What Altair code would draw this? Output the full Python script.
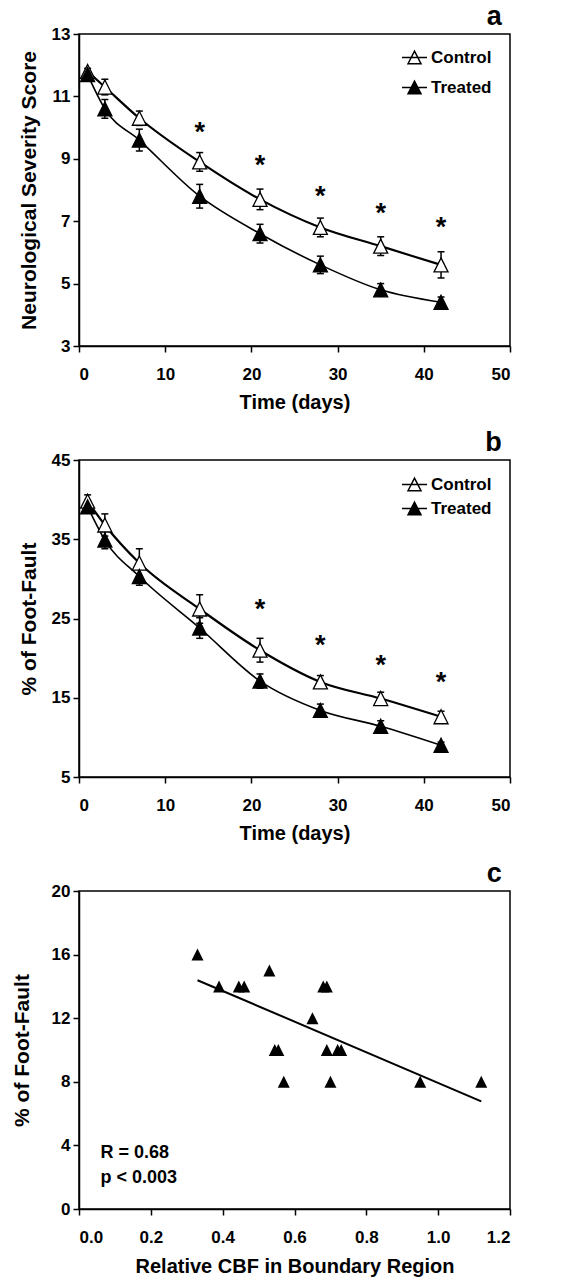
import altair as alt
import pandas as pd

FONT = "Liberation Sans"
TRI = "M0,-1L1,1L-1,1Z"
LEG = "M-1,0L1,0M-0.52,0.5L0,-0.5L0.52,0.5Z"

# ---- data ----
days = [1, 3, 7, 14, 21, 28, 35, 42]

nss_control = [11.8, 11.3, 10.3, 8.9, 7.7, 6.8, 6.2, 5.6]
nss_control_err = [0.1, 0.25, 0.23, 0.3, 0.33, 0.3, 0.3, 0.42]
nss_treated = [11.7, 10.6, 9.6, 7.8, 6.6, 5.6, 4.8, 4.4]
nss_treated_err = [0.1, 0.3, 0.35, 0.38, 0.3, 0.28, 0.2, 0.17]
nss_star_days = [14, 21, 28, 35, 42]
nss_star_y = [10.05, 9.0, 8.0, 7.45, 7.0]

ff_control = [39.8, 36.8, 32.0, 26.2, 21.0, 17.0, 14.9, 12.6]
ff_control_err = [0.8, 1.4, 1.8, 1.8, 1.5, 0.8, 0.8, 0.7]
ff_treated = [39.1, 34.9, 30.3, 23.8, 17.1, 13.4, 11.4, 9.0]
ff_treated_err = [0.8, 1.1, 1.1, 1.3, 0.9, 0.8, 0.7, 0.4]
ff_star_days = [21, 28, 35, 42]
ff_star_y = [26.9, 22.4, 19.95, 17.8]

cbf = [0.33, 0.39, 0.445, 0.46, 0.53, 0.545, 0.555, 0.57, 0.65,
       0.68, 0.69, 0.69, 0.70, 0.72, 0.73, 0.95, 1.12]
cbf_ff = [16, 14, 14, 14, 15, 10, 10, 8, 12, 14, 14, 10, 8, 10, 10, 8, 8]
stat_text = ["R = 0.68", "p < 0.003"]
stat_x = [0.06, 0.06]
stat_y = [3.2, 1.65]

groups = ["Control", "Treated"]

W = 431


def letter_title(letter):
    return alt.TitleParams(letter, anchor="end", fontSize=27, font=FONT,
                           fontWeight="bold", color="black", offset=-6, dx=-9)


def time_panel(letter, ctrl, ctrl_err, trt, trt_err, sx, sy, ydom, ystep,
               ytitle, height, leg_y, row_pad):
    rows = []
    for g, m, e in (("Control", ctrl, ctrl_err), ("Treated", trt, trt_err)):
        for d, v, s in zip(days, m, e):
            rows.append({"day": d, "group": g, "mean": v,
                         "lo": v - s, "hi": v + s})
    df = pd.DataFrame(rows)
    stars = pd.DataFrame({"day": sx, "y": sy})

    xenc = alt.X("day:Q", scale=alt.Scale(domain=[0, 50], nice=False),
                 axis=alt.Axis(title="Time (days)", values=list(range(0, 51, 10)),
                               tickSize=6, labelPadding=14, titlePadding=10))
    yscale = alt.Scale(domain=ydom, nice=False, zero=False)
    yaxis = alt.Axis(title=ytitle, values=list(range(ydom[0], ydom[1] + 1, ystep)),
                     tickSize=6, labelPadding=3, titlePadding=12)

    base = alt.Chart(df).encode(x=xenc)
    rule = base.mark_rule(color="black", strokeWidth=1.5).encode(
        y=alt.Y("lo:Q", scale=yscale, axis=yaxis), y2="hi:Q")
    cap_lo = base.mark_tick(orient="horizontal", size=7, thickness=1.5,
                            color="black", opacity=1).encode(y="lo:Q")
    cap_hi = base.mark_tick(orient="horizontal", size=7, thickness=1.5,
                            color="black", opacity=1).encode(y="hi:Q")
    line_c = base.transform_filter(alt.datum.group == "Control").mark_line(
        interpolate="monotone", color="black", strokeWidth=2.2).encode(y="mean:Q")
    line_t = base.transform_filter(alt.datum.group == "Treated").mark_line(
        interpolate="monotone", color="black", strokeWidth=1.6).encode(y="mean:Q")
    pts = base.mark_point(shape=TRI, filled=True, size=196, stroke="black",
                          strokeWidth=1.3, opacity=1).encode(
        y="mean:Q",
        fill=alt.Fill("group:N",
                      scale=alt.Scale(domain=groups, range=["white", "black"]),
                      legend=alt.Legend(title=None, orient="none", legendX=322,
                                        legendY=leg_y, symbolType=LEG,
                                        symbolSize=625, symbolStrokeColor="black",
                                        symbolStrokeWidth=1.5, symbolOpacity=1,
                                        labelFont=FONT, labelFontSize=17,
                                        labelFontWeight="bold", labelColor="black",
                                        labelOffset=3, rowPadding=row_pad,
                                        padding=0)))
    star = alt.Chart(stars).mark_text(text="*", font=FONT, fontSize=27,
                                      fontWeight="bold", baseline="alphabetic",
                                      dy=15, color="black").encode(
        x="day:Q", y="y:Q")
    return alt.layer(rule, cap_lo, cap_hi, line_c, line_t, pts, star).properties(
        width=W, height=height, title=letter_title(letter))


pa = time_panel("a", nss_control, nss_control_err, nss_treated, nss_treated_err,
                nss_star_days, nss_star_y, [3, 13], 2,
                "Neurological Severity Score", 312, 10, 7)
pb = time_panel("b", ff_control, ff_control_err, ff_treated, ff_treated_err,
                ff_star_days, ff_star_y, [5, 45], 5,
                "% of Foot-Fault", 317, 11, 1)

dfc = pd.DataFrame({"cbf": cbf, "ff": cbf_ff})
stats = pd.DataFrame({"t": stat_text, "x": stat_x, "y": stat_y})
cx = alt.X("cbf:Q", scale=alt.Scale(domain=[0, 1.2], nice=False),
           axis=alt.Axis(title="Relative CBF in Boundary Region",
                         values=[0, 0.2, 0.4, 0.6, 0.8, 1.0, 1.2], format=".1f",
                         tickSize=6, labelPadding=14, titlePadding=11))
cy = alt.Y("ff:Q", scale=alt.Scale(domain=[0, 20], nice=False),
           axis=alt.Axis(title="% of Foot-Fault", values=[0, 4, 8, 12, 16, 20],
                         tickSize=6, labelPadding=3, titlePadding=19))
cpts = alt.Chart(dfc).mark_point(shape=TRI, filled=True, size=144, color="black",
                                 opacity=1).encode(x=cx, y=cy)
creg = alt.Chart(dfc).transform_regression("cbf", "ff").mark_line(
    color="black", strokeWidth=2).encode(x="cbf:Q", y="ff:Q")
ctext = alt.Chart(stats).mark_text(align="left", baseline="alphabetic", font=FONT,
                                   fontSize=18, fontWeight="bold",
                                   color="black").encode(x="x:Q", y="y:Q", text="t:N")
pc = alt.layer(creg, cpts, ctext).properties(
    width=W, height=318, title=letter_title("c"))

chart = alt.vconcat(pa, pb, pc, spacing=15).resolve_legend(
    fill="independent"
).properties(
    padding={"left": 2, "top": -6, "right": 0, "bottom": 0}
).configure_view(stroke="black", strokeWidth=1.5).configure_axis(
    grid=False, domainColor="black", domainWidth=1.5, tickColor="black",
    tickWidth=1.5, labelFont=FONT, labelFontSize=17, labelFontWeight="bold",
    labelColor="black", titleFont=FONT, titleFontSize=20, titleFontWeight="bold",
    titleColor="black"
).configure_axisY(titleFontSize=21)

chart.save("out.html", embed_options={"renderer": "svg", "actions": False})
